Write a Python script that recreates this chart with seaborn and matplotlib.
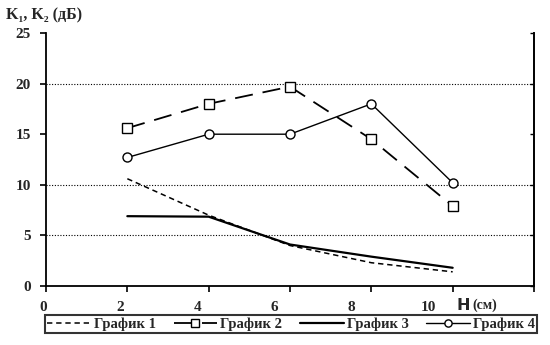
import numpy as np
import pandas as pd
import seaborn as sns
import matplotlib.pyplot as plt
from matplotlib.transforms import ScaledTranslation

# values
h_cm = [2, 4, 6, 8, 10]
graph1 = [10.6, 7.0, 4.0, 2.3, 1.4]
graph2 = [15.6, 18.0, 19.7, 14.5, 7.9]
graph3 = [6.9, 6.85, 4.1, 2.9, 1.8]
graph4 = [12.7, 15.0, 15.0, 18.0, 10.2]
series_names = ['График 1', 'График 2', 'График 3', 'График 4']
x_ticks = [0, 2, 4, 6, 8, 10, 12]
x_ticklabels = ['0', '2', '4', '6', '8', '10', '']
y_ticks = [0, 5, 10, 15, 20, 25]
grid_levels = [5, 10, 20]

df = pd.DataFrame({
    'H': h_cm * 4,
    'K': graph1 + graph2 + graph3 + graph4,
    'series': np.repeat(series_names, len(h_cm)),
})

sns.set_theme(style='white')
plt.rcParams['font.family'] = ['Liberation Serif', 'DejaVu Serif']
plt.rcParams['font.weight'] = 'bold'

fig = plt.figure(figsize=(5.5, 3.45), dpi=100)
ax = fig.add_axes([46/550, 1-286/345, (534-46)/550, (286-33)/345])

styles = {
    'График 1': dict(linestyle=(0, (3.5, 2.5)), lw=1.1, marker=None),
    'График 2': dict(linestyle=(0, (10, 5.5)), lw=1.3, marker='s'),
    'График 3': dict(linestyle='-', lw=1.6, marker=None),
    'График 4': dict(linestyle='-', lw=1.0, marker='o'),
}
for name in series_names:
    st = styles[name]
    sub = df[df['series'] == name]
    sns.lineplot(data=sub, x='H', y='K', ax=ax, color='black',
                 linestyle=st['linestyle'], lw=st['lw'], marker=st['marker'],
                 markersize=6.5, markerfacecolor='white', markeredgecolor='black',
                 markeredgewidth=1.0, label=name, legend=False)

for g in grid_levels:
    ax.axhline(g, color='black', lw=0.8, linestyle=(0, (1, 1.5)), zorder=0)

ax.set_xlim(0, 12)
ax.set_ylim(0, 25)
ax.set_xticks(x_ticks)
ax.set_xticklabels(x_ticklabels)
ax.set_yticks(y_ticks)
ax.set_xlabel('')
ax.set_ylabel('')
ax.tick_params(axis='both', which='major', direction='out', length=4, width=1.2,
               color='black', labelsize=11, bottom=True, left=True)
ax.tick_params(axis='x', pad=7)
ax.tick_params(axis='y', pad=7)
for lab in ax.get_xticklabels() + ax.get_yticklabels():
    lab.set_fontweight('bold')

# the reference's x labels drift left of their ticks
for i, lab in enumerate(ax.get_xticklabels()):
    dx = (-3 - 4.2 * i) / 100
    lab.set_transform(lab.get_transform() + ScaledTranslation(dx, 0, fig.dpi_scale_trans))

for side in ['left', 'bottom', 'right']:
    ax.spines[side].set_visible(True)
    ax.spines[side].set_color('black')
    ax.spines[side].set_linewidth(1.3)
ax.spines['top'].set_visible(False)

sec = ax.secondary_yaxis('right')
sec.set_yticks(y_ticks)
sec.tick_params(direction='in', length=3, width=1.0, color='black', labelright=False)
sec.spines['right'].set_linewidth(1.3)

fig.text(6/550, 1-15/345, 'K₁, K₂ (дБ)', fontsize=11.5, fontweight='bold', va='center', ha='left')
fig.text(457/550, 1-305/345, 'H', fontsize=11.5, fontweight='bold', va='center', ha='left',
         family=['DejaVu Sans'])
fig.text(472/550, 1-305/345, '(см)', fontsize=10, fontweight='bold', va='center', ha='left')

handles, labels = ax.get_legend_handles_labels()
leg = fig.legend(handles, labels, loc='lower left', ncol=4, mode='expand',
                 bbox_to_anchor=(45/550, 1-333/345, 492/550, 20/345),
                 borderaxespad=0, frameon=True, fancybox=False, edgecolor='black',
                 borderpad=0.15, handlelength=3.0, handletextpad=0.2, columnspacing=1.0,
                 markerscale=0.8, prop={'weight': 'bold', 'size': 10.5})
leg.get_frame().set_linewidth(1.5)

fig.savefig('out.png', dpi=100)
